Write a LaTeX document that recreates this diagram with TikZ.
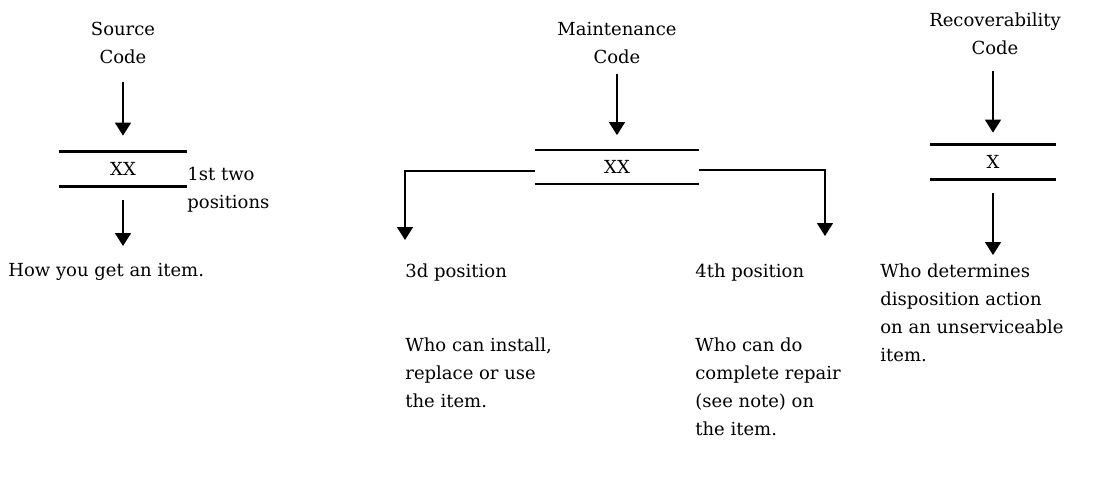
\documentclass[tikz,border=0pt]{standalone}
\usepackage{fontspec}
\setmainfont{DejaVu Serif}
\usetikzlibrary{arrows.meta}

\begin{document}
\begin{tikzpicture}[x=0.5pt, y=-0.5pt, font=\fontsize{9}{14}\selectfont,
    head/.style = {inner sep=0pt, align=center},
    txt/.style = {inner sep=0pt, align=left, anchor=north west},
    code/.style = {inner sep=0pt, minimum height=17pt},
    bar/.style = {line width=1.2pt},
    arr/.style = {-{Triangle[width=8pt,length=6.5pt]}, line width=0.8pt}]
    \useasboundingbox (0,0) rectangle (1114,489);
    % source code
    \node[head] (s0) at (123,43) {Source\\Code};
    \node[code, minimum width=63.5pt] (s1) at (123,169) {XX};
    \node[txt] (s3) at (187,167) {1st two\\positions};
    \node[txt] (s2) at (8,263) {How you get an item.};
    \draw[bar] (s1.north west) -- (s1.north east);
    \draw[bar] (s1.south west) -- (s1.south east);
    \draw[arr, shorten <=9pt, shorten >=8pt] (s0) -- (s1);
    \draw[arr, shorten <=7pt, shorten >=8.5pt] (s1) -- (s1 |- s2.north);
    % maintenance code
    \node[head] (m0) at (617,43) {Maintenance\\Code};
    \node[code, minimum width=82pt, minimum height=16.5pt] (m1) at (617,167) {XX};
    \node[txt] (m2) at (405,263) {3d position};
    \node[txt] (m3) at (405,337) {Who can install,\\replace or use\\the item.};
    \node[txt] (m4) at (695,263) {4th position};
    \node[txt] (m5) at (695,337) {Who can do\\complete repair\\(see note) on\\the item.};
    \coordinate (m6) at (825,236);
    \draw[bar] (m1.north west) -- (m1.north east);
    \draw[bar] (m1.south west) -- (m1.south east);
    \draw[arr, shorten <=5pt, shorten >=7.5pt] (m0) -- (m1);
    \draw[arr, shorten >=11.5pt] ([yshift=-2pt]m1.west) -| (m2.north west);
    \draw[arr] ([yshift=-1.5pt]m1.east) -| (m6);
    % recoverability code
    \node[head] (r0) at (995,34) {Recoverability\\Code};
    \node[code, minimum width=62.5pt] (r1) at (993,162) {X};
    \node[txt] (r2) at (880,263) {Who determines\\disposition action\\on an unserviceable\\item.};
    \draw[bar] (r1.north west) -- (r1.north east);
    \draw[bar] (r1.south west) -- (r1.south east);
    \draw[arr, shorten <=8pt, shorten >=6pt] (r1 |- r0.south) -- (r1);
    \draw[arr, shorten <=7pt, shorten >=4pt] (r1) -- (r1 |- r2.north);
\end{tikzpicture}
\end{document}
